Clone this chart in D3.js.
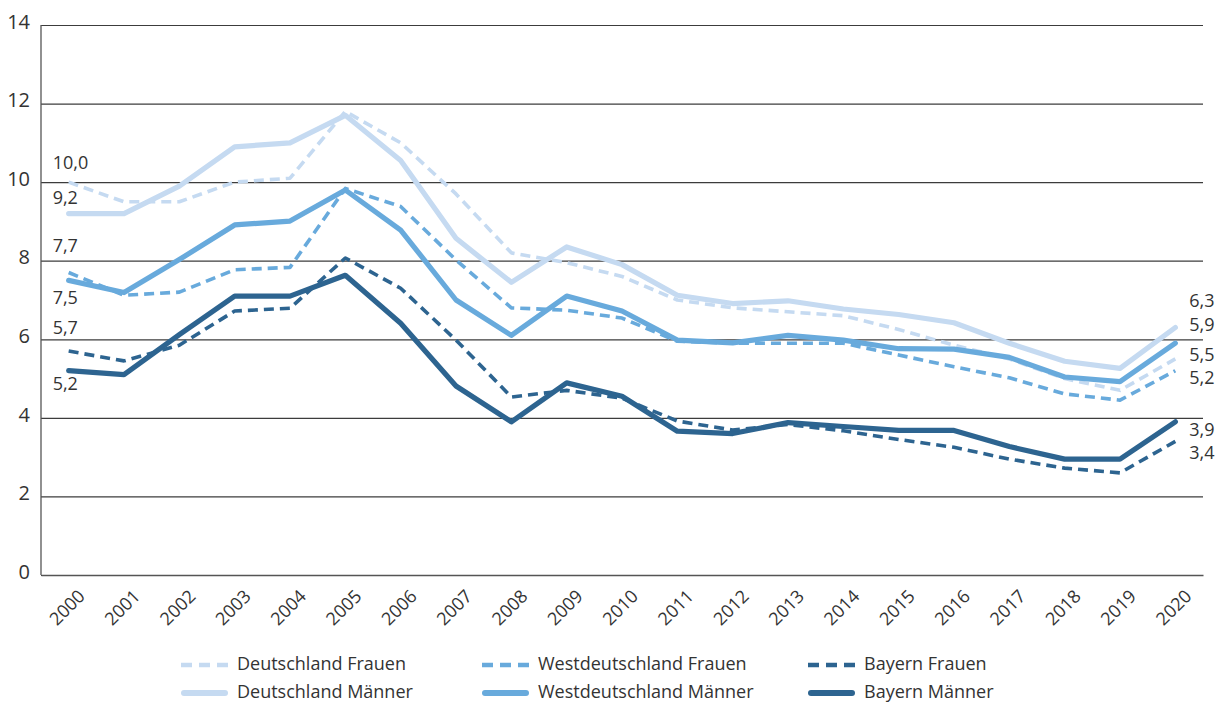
<!DOCTYPE html>
<html>
<head>
<meta charset="utf-8">
<script src="https://cdn.jsdelivr.net/npm/d3@7"></script>
<style>
  body { margin: 0; background: #fff; }
  svg { display: block; }
  text { font-family: "Open Sans", sans-serif; fill: #333; }
</style>
</head>
<body>
<svg id="chart" width="1220" height="704"></svg>
<script>
const years = ["2000","2001","2002","2003","2004","2005","2006","2007","2008","2009","2010",
               "2011","2012","2013","2014","2015","2016","2017","2018","2019","2020"];
const yTicks = [0, 2, 4, 6, 8, 10, 12, 14];

const deutschlandFrauen = [10.0, 9.5, 9.5, 10.0, 10.1, 11.8, 11.0, 9.7, 8.2, 7.95, 7.6, 7.0, 6.8, 6.7, 6.6, 6.25, 5.85, 5.5, 5.0, 4.7, 5.5];
const deutschlandMaenner = [9.2, 9.2, 9.9, 10.9, 11.0, 11.7, 10.55, 8.57, 7.45, 8.35, 7.9, 7.12, 6.91, 6.98, 6.77, 6.63, 6.42, 5.9, 5.44, 5.26, 6.3];
const westFrauen = [7.7, 7.12, 7.2, 7.77, 7.83, 9.84, 9.38, 8.02, 6.8, 6.74, 6.54, 5.95, 5.9, 5.9, 5.9, 5.6, 5.3, 5.02, 4.61, 4.45, 5.2];
const westMaenner = [7.5, 7.19, 8.03, 8.91, 9.01, 9.8, 8.78, 7.0, 6.1, 7.1, 6.72, 5.98, 5.91, 6.1, 5.98, 5.76, 5.75, 5.54, 5.04, 4.92, 5.9];
const bayernFrauen = [5.7, 5.45, 5.85, 6.72, 6.79, 8.07, 7.3, 5.98, 4.53, 4.7, 4.5, 3.92, 3.69, 3.83, 3.67, 3.45, 3.25, 2.95, 2.72, 2.6, 3.4];
const bayernMaenner = [5.2, 5.1, 6.12, 7.1, 7.1, 7.63, 6.41, 4.81, 3.9, 4.89, 4.55, 3.66, 3.6, 3.88, 3.78, 3.68, 3.68, 3.27, 2.95, 2.95, 3.9];

const seriesNames = ["Deutschland Frauen", "Westdeutschland Frauen", "Bayern Frauen",
                     "Deutschland Männer", "Westdeutschland Männer", "Bayern Männer"];

// styling / layout (not data)
const C_LIGHT = "#c5daf1", C_MID = "#68aadc", C_DARK = "#2d6490";
const series = [
  { name: seriesNames[3], values: deutschlandMaenner, color: C_LIGHT, dashed: false, lDy: -14.5, rDy: -25 },
  { name: seriesNames[0], values: deutschlandFrauen, color: C_LIGHT, dashed: true, lDy: -18, rDy: -3 },
  { name: seriesNames[4], values: westMaenner, color: C_MID, dashed: false, lDy: 19, rDy: -17 },
  { name: seriesNames[1], values: westFrauen, color: C_MID, dashed: true, lDy: -25, rDy: 8 },
  { name: seriesNames[5], values: bayernMaenner, color: C_DARK, dashed: false, lDy: 14, rDy: 9 },
  { name: seriesNames[2], values: bayernFrauen, color: C_DARK, dashed: true, lDy: -22, rDy: 13 }
];

const svg = d3.select("#chart");
const mLeft = 41, mRight = 1203, mTop = 25, mBottom = 575;

const x = d3.scaleBand().domain(years).range([mLeft, mRight]).padding(0);
const xc = d => x(d) + x.bandwidth() / 2;
const y = d3.scaleLinear().domain([0, 14]).range([mBottom, mTop]);

// y axis with gridlines
const yAxis = svg.append("g")
  .attr("transform", `translate(${mLeft},0)`)
  .call(d3.axisLeft(y).tickValues(yTicks).tickSize(-(mRight - mLeft)).tickPadding(11).tickFormat(d3.format("d")));
yAxis.select(".domain").remove();
yAxis.selectAll(".tick line").attr("stroke", "#3c3c3c").attr("stroke-width", 1.2);
yAxis.selectAll(".tick text").attr("font-size", 20).attr("dy", "0.16em")
  .style("font-family", "'Open Sans', sans-serif").attr("fill", "#333");

// left axis line
svg.append("line").attr("x1", mLeft).attr("x2", mLeft).attr("y1", mTop).attr("y2", mBottom)
  .attr("stroke", "#555").attr("stroke-width", 1.3);

const xAxis = svg.append("g")
  .attr("transform", `translate(0,${mBottom})`)
  .call(d3.axisBottom(x).tickSize(0).tickPadding(0));
xAxis.select(".domain").attr("stroke", "#555").attr("stroke-width", 1.6);
xAxis.selectAll(".tick text")
  .attr("font-size", 18)
  .style("font-family", "'Open Sans', sans-serif")
  .attr("fill", "#333")
  .attr("text-anchor", "end")
  .attr("dy", null).attr("y", null)
  .attr("transform", "translate(14,19) rotate(-45)")
  .attr("dominant-baseline", "middle");

// lines
const line = d3.line().x((d, i) => xc(years[i])).y(d => y(d));
series.forEach(s => {
  svg.append("path")
    .datum(s.values)
    .attr("d", line)
    .attr("fill", "none")
    .attr("stroke", s.color)
    .attr("stroke-width", s.dashed ? 3.6 : 5.2)
    .attr("stroke-dasharray", s.dashed ? "10,6" : null)
    .attr("stroke-linejoin", "round")
    .attr("stroke-linecap", s.dashed ? "butt" : "round");
});

// value labels
const fmt = v => d3.format(".1f")(v).replace(".", ",");
series.forEach(s => {
  const v0 = s.values[0], vN = s.values[s.values.length - 1];
  svg.append("text").attr("x", xc(years[0]) - 16).attr("y", y(v0) + s.lDy)
    .attr("dominant-baseline", "middle").attr("font-size", 18).text(fmt(v0));
  svg.append("text").attr("x", xc(years[years.length - 1]) + 14).attr("y", y(vN) + s.rDy)
    .attr("dominant-baseline", "middle").attr("font-size", 18).text(fmt(vN));
});

// legend
const legendOrder = [
  { s: series[1], col: 0, row: 0 }, { s: series[3], col: 1, row: 0 }, { s: series[5], col: 2, row: 0 },
  { s: series[0], col: 0, row: 1 }, { s: series[2], col: 1, row: 1 }, { s: series[4], col: 2, row: 1 }
];
const colX = [181, 482, 808], rowY = [665, 693];
legendOrder.forEach(item => {
  const g = svg.append("g").attr("transform", `translate(${colX[item.col]},${rowY[item.row]})`);
  g.append("line").attr("y1", 0).attr("y2", 0)
    .attr("stroke", item.s.color)
    .attr("stroke-width", item.s.dashed ? 4.5 : 6)
    .attr("stroke-linecap", item.s.dashed ? "butt" : "round")
    .attr("stroke-dasharray", item.s.dashed ? "11,7" : null)
    .attr("x1", item.s.dashed ? 0 : 3).attr("x2", item.s.dashed ? 47 : 44);
  g.append("text").attr("x", 56).attr("y", 0).attr("dominant-baseline", "middle")
    .attr("font-size", 18).text(item.s.name);
});
</script>
</body>
</html>
